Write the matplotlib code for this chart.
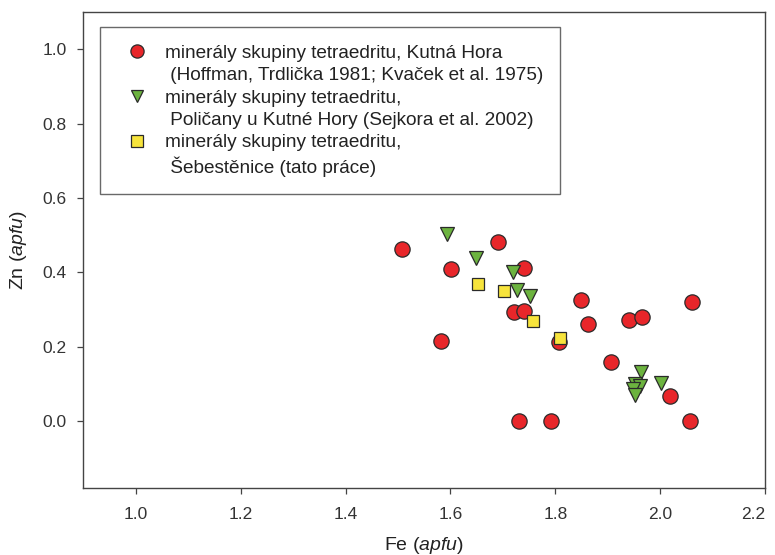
import matplotlib
matplotlib.use("Agg")
import matplotlib.pyplot as plt
from matplotlib.lines import Line2D
from matplotlib.ticker import FormatStrFormatter

plt.rcParams['font.family'] = ['Liberation Sans', 'DejaVu Sans']
plt.rcParams['mathtext.fontset'] = 'custom'
plt.rcParams['mathtext.rm'] = 'Liberation Sans'
plt.rcParams['mathtext.it'] = 'Liberation Sans:italic'

## Kutna Hora (red circles)
kh_fe = [1.507, 1.690, 1.601, 1.740, 1.722, 1.740, 1.850, 1.862, 1.940, 1.966,
         2.061, 1.582, 1.808, 1.907, 2.019, 1.731, 1.791, 2.057]
kh_zn = [0.463, 0.481, 0.408, 0.411, 0.292, 0.297, 0.325, 0.261, 0.273, 0.279,
         0.321, 0.214, 0.212, 0.159, 0.067, 0.000, 0.000, 0.000]

## Policany (green triangles)
po_fe = [1.593, 1.648, 1.720, 1.728, 1.752, 1.964, 2.001, 1.952, 1.961, 1.949, 1.953]
po_zn = [0.502, 0.439, 0.402, 0.353, 0.337, 0.132, 0.103, 0.101, 0.094, 0.087, 0.070]

## Sebestenice (yellow squares)
se_fe = [1.653, 1.702, 1.758, 1.809]
se_zn = [0.368, 0.350, 0.268, 0.223]

xticks = [1.0, 1.2, 1.4, 1.6, 1.8, 2.0, 2.2]
yticks = [0.0, 0.2, 0.4, 0.6, 0.8, 1.0]

labels = [
    ("minerály skupiny tetraedritu, Kutná Hora",
     " (Hoffman, Trdlička 1981; Kvaček et al. 1975)"),
    ("minerály skupiny tetraedritu,",
     " Poličany u Kutné Hory (Sejkora et al. 2002)"),
    ("minerály skupiny tetraedritu,",
     " Šebestěnice (tato práce)"),
]

red = '#e8262a'
green = '#6cb33f'
yellow = '#f7e43c'
edge = '#2a2a2a'

fig = plt.figure(figsize=(7.75, 5.55), dpi=100)
ax = fig.add_axes([0.1075, 0.1207, 0.8796, 0.8577])

ax.plot(kh_fe, kh_zn, 'o', ms=11, mfc=red, mec=edge, mew=0.9, ls='none')
ax.plot(po_fe, po_zn, 'v', ms=10, mfc=green, mec=edge, mew=0.9, ls='none')
ax.plot(se_fe, se_zn, 's', ms=9, mfc=yellow, mec=edge, mew=0.9, ls='none')

ax.set_xlim(0.9, 2.2)
ax.set_ylim(-0.18, 1.1)
ax.set_xticks(xticks)
ax.set_yticks(yticks)
ax.xaxis.set_major_formatter(FormatStrFormatter('%.1f'))
ax.yaxis.set_major_formatter(FormatStrFormatter('%.1f'))
ax.tick_params(direction='out', length=4, width=0.9, labelsize=12.5,
               labelcolor='#333333', color='#444444')
ax.tick_params(axis='x', pad=10)
ax.tick_params(axis='y', pad=8)
for s in ax.spines.values():
    s.set_linewidth(1.0)
    s.set_color('#444444')

# last x label sits left of its tick so it is not cut at the edge
fig.canvas.draw()
ax.get_xticklabels()[-1].set_horizontalalignment('right')

ax.set_xlabel(r'Fe ($\it{apfu}$)', fontsize=14, color='#222222', labelpad=9)
ax.set_ylabel(r'Zn ($\it{apfu}$)', fontsize=14, color='#222222', labelpad=10)

## legend: marker on the first line, blank handle for the second line
blank = Line2D([], [], ls='none', marker=None)
h_kh = Line2D([], [], marker='o', ls='none', ms=9.5, mfc=red, mec=edge, mew=0.9)
h_po = Line2D([], [], marker='v', ls='none', ms=8.5, mfc=green, mec=edge, mew=0.9)
h_se = Line2D([], [], marker='s', ls='none', ms=8, mfc=yellow, mec=edge, mew=0.9)
handles = [h_kh, blank, h_po, blank, h_se, blank]
leg_labels = [labels[0][0], labels[0][1], labels[1][0], labels[1][1],
              labels[2][0], labels[2][1]]
leg = ax.legend(handles, leg_labels, loc='upper left', bbox_to_anchor=(0.0245, 0.968),
                fontsize=13.7, frameon=True, fancybox=False, edgecolor='#444444',
                labelspacing=0.27, handletextpad=0.4, borderpad=0.9,
                borderaxespad=0.0, handlelength=2.1)
leg.get_frame().set_linewidth(1.0)
for t in leg.get_texts():
    t.set_color('#222222')

fig.savefig('out.png', dpi=100)
